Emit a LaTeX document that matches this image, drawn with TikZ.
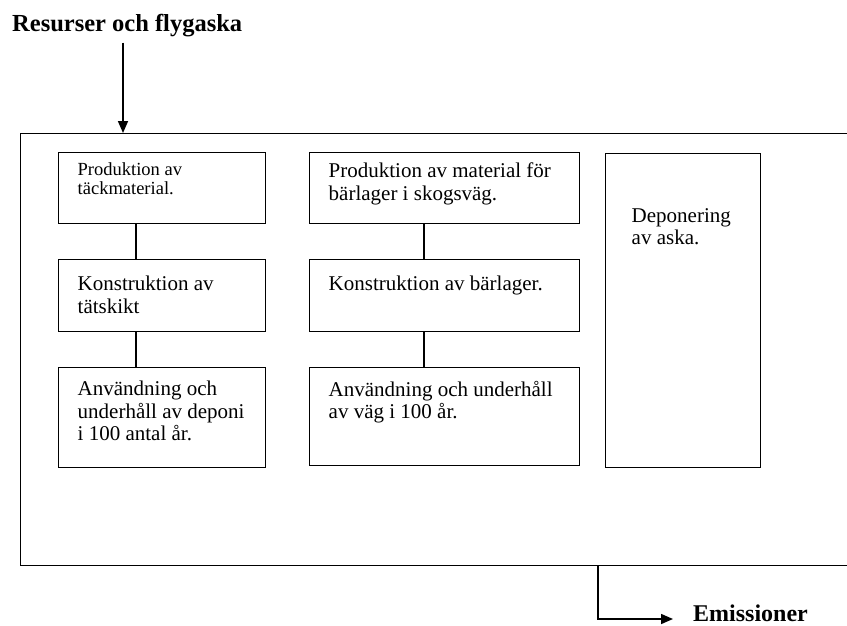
\documentclass[tikz,border=0pt]{standalone}
\usepackage{fontspec}
\setmainfont{Liberation Serif}
\usetikzlibrary{arrows.meta,calc}

\begin{document}
\begin{tikzpicture}[x=1pt, y=-1pt,
    stage/.style={draw, line width=1.4pt, anchor=north west, inner xsep=19pt, inner ysep=0pt,
      font=\fontsize{21}{22.5}\selectfont},
    link/.style={line width=1.4pt},
    flow/.style={line width=1.6pt, -{Triangle[width=10pt, length=12pt]}},
    heading/.style={anchor=base west, inner sep=0pt, font=\fontsize{24.5}{26}\selectfont\bfseries}]
  \clip (0, 0) rectangle (847, 625);

  % system boundary, runs off the right edge
  \node [draw, line width=1.4pt, anchor=north west, minimum width=840pt, minimum height=432pt] (system) at (20, 133) {};

  \node [heading] (title) at (12, 31) {Resurser och flygaska};
  \node [heading, font=\fontsize{24}{26}\selectfont\bfseries] (emis) at (693, 621) {Emissioner};

  % deponi
  \node [stage, font=\fontsize{18.5}{19}\selectfont] (tack) at (58, 152)
    {\parbox[t][71pt][t]{169pt}{\vspace*{10pt}Produktion av\\täckmaterial.}};
  \node [stage] (tatskikt) at (58, 259)
    {\parbox[t][72pt][t]{169pt}{\vspace*{16.5pt}Konstruktion av\\tätskikt}};
  \node [stage] (deponi) at (58, 367)
    {\parbox[t][100pt][t]{169pt}{\vspace*{13.5pt}Användning och\\underhåll av deponi\\i 100 antal år.}};

  % skogsväg
  \node [stage] (barmat) at (309, 152)
    {\parbox[t][71pt][t]{232pt}{\vspace*{10.5pt}Produktion av material för\\bärlager i skogsväg.}};
  \node [stage] (barlager) at (309, 259)
    {\parbox[t][72pt][t]{232pt}{\vspace*{16.5pt}Konstruktion av bärlager.}};
  \node [stage] (vag) at (309, 367)
    {\parbox[t][98pt][t]{232pt}{\vspace*{13.5pt}Användning och underhåll\\av väg i 100 år.}};

  \node [stage, inner xsep=26pt] (aska) at (605, 153)
    {\parbox[t][314pt][t]{103pt}{\vspace*{54.5pt}Deponering\\av aska.}};

  \draw [link] ([xshift=78pt]tack.south west) -- ([xshift=78pt]tatskikt.north west);
  \draw [link] ([xshift=78pt]tatskikt.south west) -- ([xshift=78pt]deponi.north west);
  \draw [link] ([xshift=115pt]barmat.south west) -- ([xshift=115pt]barlager.north west);
  \draw [link] ([xshift=115pt]barlager.south west) -- ([xshift=115pt]vag.north west);

  \coordinate (sysin) at ([xshift=103pt]system.north west);
  \draw [flow] ([yshift=-6pt]title.south -| sysin) -- (sysin);
  \draw [flow] ([xshift=578pt]system.south west) |- ([shift={(-20pt, 2pt)}]emis.base west);
\end{tikzpicture}
\end{document}
